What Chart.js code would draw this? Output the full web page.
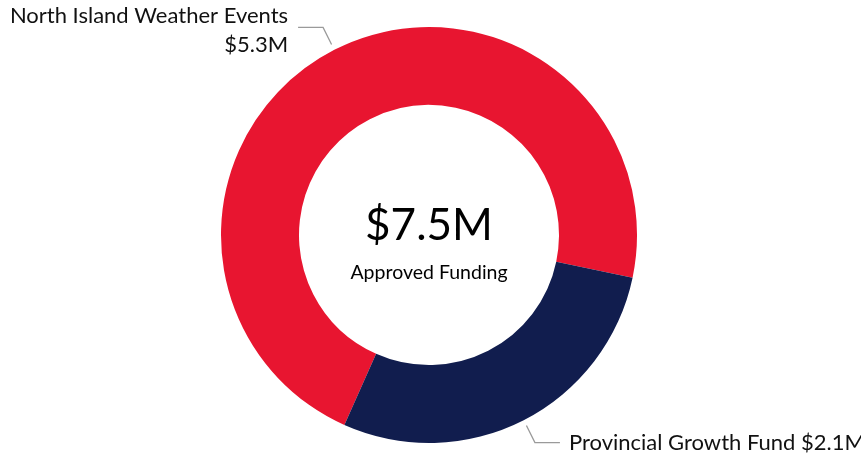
<!DOCTYPE html>
<html>
<head>
<meta charset="utf-8">
<script src="https://cdn.jsdelivr.net/npm/chart.js@4"></script>
<style>
  html, body { margin: 0; padding: 0; background: #fff; }
  #wrap { width: 861px; height: 455px; }
</style>
</head>
<body>
<div id="wrap"><canvas id="chart1"></canvas></div>
<script>
// datos
const labels = ['North Island Weather Events', 'Provincial Growth Fund'];
const values = [5.3, 2.1];
const valueText = ['$5.3M', '$2.1M'];
const totalText = '$7.5M';
const subText = 'Approved Funding';
const colors = ['#E81530', '#111D4E'];

const FONT = 'Lato, "Open Sans", sans-serif';

// etiquetas con líneas guía + texto central
const labelPlugin = {
    id: 'labelPlugin',
    afterDraw(chart) {
        const ctx = chart.ctx;
        const meta = chart.getDatasetMeta(0);
        ctx.save();
        meta.data.forEach((arc, i) => {
            const mid = (arc.startAngle + arc.endAngle) / 2;
            const r = arc.outerRadius + 6;
            const x0 = arc.x + Math.cos(mid) * r;
            const y0 = arc.y + Math.sin(mid) * r;
            const dir = Math.cos(mid) < 0 ? -1 : 1;
            const up = Math.sin(mid) < 0 ? -1 : 1;
            const x1 = x0 + dir * 8.5;
            const y1 = y0 + up * 17;
            const x2 = x1 + dir * 25;
            ctx.strokeStyle = '#9a9a9a';
            ctx.lineWidth = 1.3;
            ctx.beginPath();
            ctx.moveTo(x0, y0);
            ctx.lineTo(x1, y1);
            ctx.lineTo(x2, y1);
            ctx.stroke();
            ctx.fillStyle = '#111';
            ctx.font = '22px ' + FONT;
            if (dir < 0) {
                ctx.textAlign = 'right';
                ctx.textBaseline = 'alphabetic';
                ctx.fillText(labels[i], x2 - 10, y1 - 4);
                ctx.fillText(valueText[i], x2 - 10, y1 + 25);
            } else {
                ctx.textAlign = 'left';
                ctx.textBaseline = 'alphabetic';
                ctx.fillText(labels[i] + ' ' + valueText[i], x2 + 9, y1 + 7);
            }
        });
        const cx = meta.data[0].x, cy = meta.data[0].y;
        ctx.textAlign = 'center';
        ctx.textBaseline = 'alphabetic';
        ctx.fillStyle = '#000';
        ctx.font = '44px ' + FONT;
        ctx.fillText(totalText, cx, cy + 5);
        ctx.font = '19.5px ' + FONT;
        ctx.fillText(subText, cx, cy + 44);
        ctx.restore();
    }
};

const ctx1 = document.getElementById('chart1').getContext('2d');
new Chart(ctx1, {
    type: 'doughnut',
    data: {
        labels: labels,
        datasets: [{
            data: values,
            backgroundColor: colors,
            borderWidth: 0
        }]
    },
    options: {
        responsive: true,
        maintainAspectRatio: false,
        animation: false,
        cutout: '62.5%',
        rotation: 204,
        layout: { padding: { top: 27, bottom: 12, left: 0, right: 3 } },
        plugins: {
            legend: { display: false },
            tooltip: { enabled: false }
        }
    },
    plugins: [labelPlugin]
});
</script>
</body>
</html>
